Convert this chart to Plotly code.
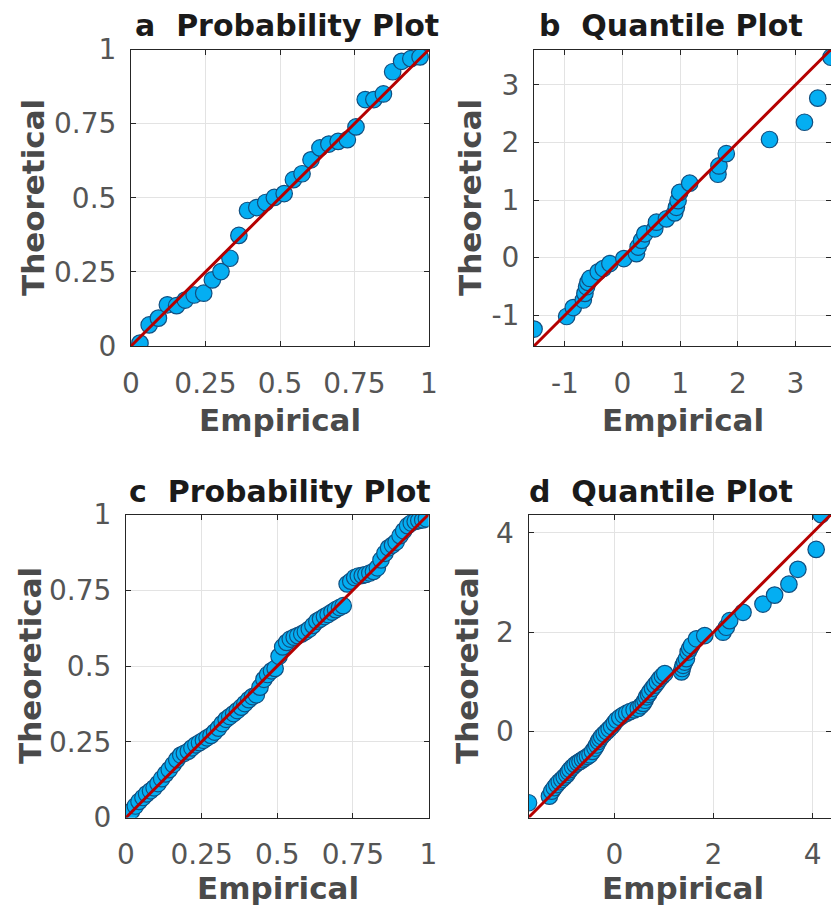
import plotly.graph_objects as go

# ---------------- data ----------------
# Panel a: probability plot (n = 32)
a_emp = [0.030, 0.061, 0.092, 0.122, 0.153, 0.182, 0.212, 0.244, 0.273, 0.302, 0.332,
         0.362, 0.391, 0.422, 0.452, 0.481, 0.514, 0.545, 0.574, 0.604, 0.634, 0.664,
         0.695, 0.726, 0.755, 0.786, 0.815, 0.847, 0.878, 0.908, 0.939, 0.970]
a_theo = [0.010, 0.071, 0.094, 0.139, 0.136, 0.155, 0.172, 0.178, 0.223, 0.251, 0.296,
          0.373, 0.457, 0.467, 0.484, 0.501, 0.514, 0.561, 0.581, 0.628, 0.668, 0.681,
          0.690, 0.696, 0.739, 0.831, 0.831, 0.850, 0.925, 0.960, 0.969, 0.975]

# Panel b: quantile plot
b_emp = [-1.534, -0.969, -0.854, -0.680, -0.652, -0.623, -0.600, -0.565, -0.421, -0.334,
         -0.219, 0.023, 0.242, 0.271, 0.329, 0.386, 0.559, 0.588, 0.761, 0.905, 0.934,
         0.963, 0.992, 1.165, 1.655, 1.672, 1.799, 2.549, 3.155, 3.385, 3.615]
b_theo = [-1.241, -1.023, -0.868, -0.736, -0.621, -0.506, -0.430, -0.362, -0.247, -0.190,
          -0.103, -0.017, 0.069, 0.184, 0.299, 0.414, 0.500, 0.615, 0.672, 0.776, 0.874,
          0.989, 1.132, 1.293, 1.448, 1.592, 1.805, 2.052, 2.351, 2.770, 3.480]

# Panel c: probability plot (larger sample)
c_emp = [0.006, 0.018, 0.031, 0.043, 0.056, 0.068, 0.081, 0.093, 0.106, 0.118,
         0.131, 0.143, 0.156, 0.168, 0.181, 0.193, 0.206, 0.218, 0.231, 0.243,
         0.256, 0.268, 0.281, 0.293, 0.306, 0.318, 0.331, 0.343, 0.356, 0.368,
         0.381, 0.393, 0.406, 0.418, 0.431, 0.443, 0.456, 0.468, 0.481, 0.493,
         0.506, 0.518, 0.531, 0.543, 0.556, 0.568, 0.581, 0.593, 0.606, 0.618,
         0.631, 0.643, 0.656, 0.668, 0.681, 0.693, 0.706, 0.718, 0.731, 0.743,
         0.756, 0.768, 0.781, 0.793, 0.806, 0.818, 0.831, 0.843, 0.856, 0.868,
         0.881, 0.893, 0.906, 0.918, 0.931, 0.943, 0.956, 0.968, 0.981, 0.993]
c_theo = [0.006, 0.021, 0.038, 0.053, 0.066, 0.078, 0.088, 0.098, 0.112, 0.128,
          0.144, 0.158, 0.175, 0.191, 0.206, 0.212, 0.219, 0.230, 0.240, 0.247,
          0.255, 0.263, 0.271, 0.282, 0.295, 0.310, 0.324, 0.333, 0.343, 0.353,
          0.364, 0.376, 0.389, 0.399, 0.405, 0.430, 0.456, 0.472, 0.484, 0.492,
          0.532, 0.563, 0.578, 0.589, 0.595, 0.600, 0.606, 0.613, 0.622, 0.634,
          0.648, 0.655, 0.663, 0.670, 0.678, 0.686, 0.693, 0.699, 0.771, 0.780,
          0.792, 0.797, 0.799, 0.802, 0.807, 0.812, 0.824, 0.850, 0.872, 0.890,
          0.899, 0.909, 0.930, 0.946, 0.963, 0.972, 0.977, 0.980, 0.982, 0.986]

# Panel d: quantile plot (larger sample)
d_emp = [-1.730, -1.308, -1.261, -1.210, -1.160, -1.110, -1.060, -1.010, -0.959, -0.925,
         -0.892, -0.840, -0.791, -0.740, -0.691, -0.640, -0.590, -0.540, -0.490, -0.440,
         -0.389, -0.355, -0.322, -0.290, -0.255, -0.205, -0.154, -0.104, -0.054, 0.000,
         0.047, 0.110, 0.181, 0.250, 0.315, 0.400, 0.483, 0.540, 0.583, 0.620,
         0.651, 0.690, 0.718, 0.770, 0.818, 0.870, 0.919, 0.970, 1.019, 1.355,
         1.370, 1.388, 1.420, 1.455, 1.489, 1.520, 1.556, 1.657, 1.824, 2.193,
         2.260, 2.327, 2.596, 2.998, 3.233, 3.521, 3.702, 4.071, 4.172]
d_theo = [-1.433, -1.300, -1.200, -1.130, -1.067, -1.010, -0.967, -0.917, -0.867, -0.815,
          -0.767, -0.715, -0.667, -0.630, -0.600, -0.565, -0.533, -0.500, -0.467, -0.400,
          -0.333, -0.270, -0.200, -0.150, -0.100, -0.050, 0.000, 0.050, 0.100, 0.170,
          0.233, 0.285, 0.333, 0.370, 0.400, 0.435, 0.467, 0.520, 0.567, 0.630,
          0.700, 0.750, 0.800, 0.870, 0.933, 1.000, 1.067, 1.120, 1.167, 1.200,
          1.270, 1.333, 1.400, 1.467, 1.600, 1.670, 1.733, 1.867, 1.933, 2.000,
          2.100, 2.233, 2.400, 2.567, 2.747, 2.967, 3.267, 3.667, 4.367]

# reference lines y = x
ab_line_prob = [0, 1]
b_line = [-1.535, 3.615]
d_line = [-1.73, 4.37]

# tick values / labels
prob_ticks = [0, 0.25, 0.5, 0.75, 1]
prob_ticktext = ["0", "0.25", "0.5", "0.75", "1"]
b_ticks = [-1, 0, 1, 2, 3]
b_ticktext = ["-1", "0", "1", "2", "3"]
d_ticks = [0, 2, 4]
d_ticktext = ["0", "2", "4"]

titles = ["a  Probability Plot", "b  Quantile Plot", "c  Probability Plot", "d  Quantile Plot"]
xlabel = "Empirical"
ylabel = "Theoretical"

# ---------------- style ----------------
W, H = 831, 911
FONT = "DejaVu Sans"
MFILL = "#04aef2"
MEDGE = "#114f80"
LINE = "#b50000"
TICKC = "#555555"
LABC = "#4a4a4a"

fig = go.Figure()

panels = [
    (a_emp, a_theo, ab_line_prob, "x", "y"),
    (b_emp, b_theo, b_line, "x2", "y2"),
    (c_emp, c_theo, ab_line_prob, "x3", "y3"),
    (d_emp, d_theo, d_line, "x4", "y4"),
]
for xs, ys, ln, xa, ya in panels:
    fig.add_trace(go.Scatter(x=xs, y=ys, mode="markers", xaxis=xa, yaxis=ya,
                             marker=dict(size=16.5, color=MFILL, line=dict(color=MEDGE, width=1.2)),
                             showlegend=False, hoverinfo="skip"))
    fig.add_trace(go.Scatter(x=ln, y=ln, mode="lines", xaxis=xa, yaxis=ya,
                             line=dict(color=LINE, width=3),
                             showlegend=False, hoverinfo="skip"))


def px_x(v):
    return v / W


def px_y(v):
    return (H - v) / H


def axis(domain, rng, tv, tt, is_x, anchor):
    return dict(
        domain=domain, range=rng, tickvals=tv, ticktext=tt, anchor=anchor,
        showgrid=True, gridcolor="#e3e3e3", gridwidth=1,
        zeroline=False, showline=True, linecolor="#262626", linewidth=1,
        mirror="ticks", ticks="inside", ticklen=5, tickcolor="#262626",
        tickfont=dict(family=FONT, size=28, color=TICKC),
        ticklabelstandoff=12 if is_x else 8,
        automargin=False, fixedrange=True,
    )


yd_top = [px_y(346), px_y(49.5)]
yd_bot = [px_y(817.5), px_y(514.5)]

fig.update_layout(
    width=W, height=H,
    margin=dict(l=0, r=0, t=0, b=0, pad=0, autoexpand=False),
    paper_bgcolor="white", plot_bgcolor="white",
    xaxis=axis([px_x(131), px_x(429)], [0, 1], prob_ticks, prob_ticktext, True, "y"),
    yaxis=axis(yd_top, [0, 1], prob_ticks, prob_ticktext, False, "x"),
    xaxis2=axis([px_x(534), 1.0], [b_line[0], b_line[1]], b_ticks, b_ticktext, True, "y2"),
    yaxis2=axis(yd_top, [b_line[0], b_line[1]], b_ticks, b_ticktext, False, "x2"),
    xaxis3=axis([px_x(126), px_x(428.5)], [0, 1], prob_ticks, prob_ticktext, True, "y3"),
    yaxis3=axis(yd_bot, [0, 1], prob_ticks, prob_ticktext, False, "x3"),
    xaxis4=axis([px_x(528.5), 1.0], [d_line[0], d_line[1]], d_ticks, d_ticktext, True, "y4"),
    yaxis4=axis(yd_bot, [d_line[0], d_line[1]], d_ticks, d_ticktext, False, "x4"),
)

ann = []
title_pos = [(133, 26), (537, 26), (127, 491), (527, 491)]
for t, (x, y) in zip(titles, title_pos):
    ann.append(dict(text="<b>" + t + "</b>", x=px_x(x), y=px_y(y), xref="paper", yref="paper",
                    xanchor="left", yanchor="middle", showarrow=False,
                    font=dict(family=FONT, size=30, color="#1a1a1a")))
for (x, y) in [(280, 420), (683, 420), (278, 888), (683, 888)]:
    ann.append(dict(text="<b>" + xlabel + "</b>", x=px_x(x), y=px_y(y), xref="paper", yref="paper",
                    xanchor="center", yanchor="middle", showarrow=False,
                    font=dict(family=FONT, size=31, color=LABC)))
for (x, y) in [(33, 198), (470, 198), (30, 666), (467, 666)]:
    ann.append(dict(text="<b>" + ylabel + "</b>", x=px_x(x), y=px_y(y), xref="paper", yref="paper",
                    xanchor="center", yanchor="middle", showarrow=False, textangle=-90,
                    font=dict(family=FONT, size=31, color=LABC)))
fig.update_layout(annotations=ann)

fig.write_html("out.html")
